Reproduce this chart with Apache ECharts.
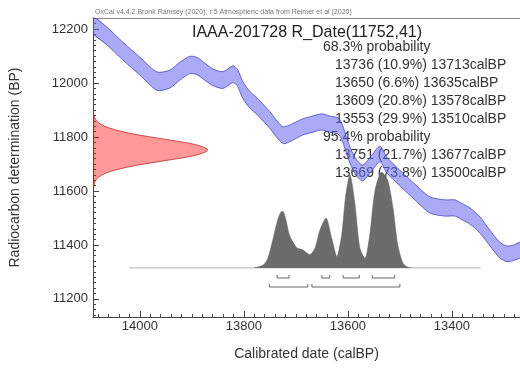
<!DOCTYPE html>
<html>
<head>
<meta charset="utf-8">
<script src="https://cdn.jsdelivr.net/npm/echarts@6/dist/echarts.min.js"></script>
<style>
  html, body { margin: 0; padding: 0; background: #fff; }
  #main { width: 520px; height: 369px; }
</style>
</head>
<body>
<div id="main"></div>
<script>
// 校正曲线 (calBP / BP / 1 sigma)
const curveYears = [14090, 14062, 14033, 14000, 13967, 13942, 13923, 13904, 13890, 13879, 13860, 13840, 13821, 13812, 13802, 13788, 13775, 13750, 13725, 13706, 13687, 13667, 13650, 13635, 13619, 13612, 13596, 13583, 13571, 13554, 13538, 13525, 13500, 13471, 13442, 13413, 13394, 13379, 13365, 13346, 13327, 13308, 13294, 13283, 13269]
const curveBP = [12215, 12172, 12119, 12063, 12007, 12015, 12044, 12067, 12063, 12048, 12022, 12011, 12033, 12019, 11974, 11937, 11915, 11863, 11807, 11819, 11837, 11848, 11856, 11848, 11841, 11822, 11733, 11685, 11667, 11704, 11737, 11696, 11648, 11596, 11548, 11537, 11537, 11522, 11507, 11474, 11426, 11381, 11367, 11370, 11381]
const curveErr = [33, 33, 33, 33, 34, 33, 33, 32, 32, 32, 31, 31, 31, 31, 31, 31, 31, 31, 31, 31, 30, 30, 30, 30, 30, 30, 30, 30, 29, 29, 29, 29, 29, 29, 30, 30, 30, 30, 30, 30, 29, 29, 29, 29, 29]

// R_Date(11752,41)
const dateBP = [11892, 11872, 11852, 11832, 11812, 11792, 11772, 11752, 11732, 11712, 11692, 11672, 11652, 11632, 11612]
const dateProb = [0.003, 0.014, 0.05, 0.15, 0.34, 0.62, 0.89, 1, 0.89, 0.62, 0.34, 0.15, 0.05, 0.014, 0.003]

// 校正后概率分布
const postYears = [13780, 13763, 13754, 13744, 13735, 13729, 13725, 13719, 13712, 13698, 13687, 13673, 13663, 13654, 13642, 13631, 13621, 13612, 13604, 13596, 13587, 13577, 13567, 13558, 13548, 13535, 13523, 13513, 13504, 13494, 13485, 13477]
const postProb = [0, 0.03, 0.1, 0.3, 0.5, 0.58, 0.59, 0.5, 0.34, 0.21, 0.19, 0.14, 0.21, 0.39, 0.52, 0.31, 0.12, 0.34, 0.76, 0.97, 0.7, 0.21, 0.1, 0.34, 0.8, 1, 0.91, 0.62, 0.24, 0.05, 0.01, 0]
const baseline = [14020, 13345]

// 区间
const range68 = [[13736, 13713], [13650, 13635], [13609, 13578], [13553, 13510]]
const range95 = [[13751, 13677], [13669, 13500]]
const lines68 = ['13736 (10.9%) 13713calBP', '13650 (6.6%) 13635calBP', '13609 (20.8%) 13578calBP', '13553 (29.9%) 13510calBP']
const lines95 = ['13751 (21.7%) 13677calBP', '13669 (73.8%) 13500calBP']

const font = 'Liberation Sans, Arial, sans-serif'
const axisColor = '#444'

var chart = echarts.init(document.getElementById('main'), null, { renderer: 'canvas' })

// 文字
var graphics = [
  { type: 'text', left: 95, top: 9, style: { text: 'OxCal v4.4.2 Bronk Ramsey (2020); r:5 Atmospheric data from Reimer et al (2020)', font: '7px ' + font, fill: '#777' } },
  { type: 'text', x: 307, y: 33, style: { text: 'IAAA-201728 R_Date(11752,41)', font: '16px ' + font, fill: '#222', align: 'center', verticalAlign: 'middle' } },
  { type: 'text', x: 323, y: 47, style: { text: '68.3% probability', font: '14px ' + font, fill: '#333', verticalAlign: 'middle' } }
]
lines68.forEach((t, i) => {
  graphics.push({ type: 'text', x: 335, y: 65 + i * 18, style: { text: t, font: '14px ' + font, fill: '#333', verticalAlign: 'middle' } })
})
graphics.push({ type: 'text', x: 323, y: 137, style: { text: '95.4% probability', font: '14px ' + font, fill: '#333', verticalAlign: 'middle' } })
lines95.forEach((t, i) => {
  graphics.push({ type: 'text', x: 335, y: 155 + i * 18, style: { text: t, font: '14px ' + font, fill: '#333', verticalAlign: 'middle' } })
})

function bandItem(params, api) {
  const upper = curveYears.map((y, i) => api.coord([y, curveBP[i] + curveErr[i]]))
  const lower = curveYears.map((y, i) => api.coord([y, curveBP[i] - curveErr[i]])).reverse()
  return {
    type: 'group',
    children: [
      { type: 'polygon', shape: { points: upper.concat(lower), smooth: 0.25 },
        style: { fill: 'rgba(100,100,240,0.55)' } },
      { type: 'polyline', shape: { points: upper, smooth: 0.25 },
        style: { fill: null, stroke: 'rgba(70,70,190,0.8)', lineWidth: 1 } },
      { type: 'polyline', shape: { points: lower, smooth: 0.25 },
        style: { fill: null, stroke: 'rgba(70,70,190,0.8)', lineWidth: 1 } }
    ]
  }
}

function dateItem(params, api) {
  const pts = dateBP.map((b, i) => api.coord([dateProb[i], b]))
  pts.unshift(api.coord([0, dateBP[0]]))
  pts.push(api.coord([0, dateBP[dateBP.length - 1]]))
  return {
    type: 'polygon',
    shape: { points: pts, smooth: 0.3 },
    style: { fill: 'rgba(255,0,0,0.4)', stroke: 'rgba(190,40,40,0.8)', lineWidth: 1 }
  }
}

function rangeItem(params, api) {
  const a = api.coord([api.value(0), 0])
  const b = api.coord([api.value(1), 0])
  const y = a[1] + (api.value(2) === 0 ? 10 : 19)
  return {
    type: 'polyline',
    shape: { points: [[a[0], y - 3], [a[0], y], [b[0], y], [b[0], y - 3]] },
    style: { stroke: '#666', lineWidth: 1, fill: null }
  }
}

var rangeData = range68.map(r => [r[0], r[1], 0]).concat(range95.map(r => [r[0], r[1], 1]))

var option = {
  animation: false,
  textStyle: { fontFamily: font },
  graphic: graphics,
  grid: [
    { left: 93, right: 0, top: 18, bottom: 52 },
    { left: 93, right: 0, top: 172, bottom: 101 },
    { left: 93, width: 115, top: 18, bottom: 52 }
  ],
  xAxis: [
    {
      type: 'value', gridIndex: 0, position: 'bottom', min: 13269, max: 14090, inverse: true,
      minInterval: 200, maxInterval: 200,
      name: 'Calibrated date (calBP)', nameLocation: 'middle', nameGap: 30,
      nameTextStyle: { fontSize: 14, color: '#333' },
      axisLine: { lineStyle: { color: axisColor } },
      axisTick: { inside: true, length: 6, lineStyle: { color: axisColor } },
      axisLabel: { fontSize: 13, color: '#333', margin: 3, showMinLabel: false, showMaxLabel: false,
        formatter: v => (v % 200 === 0 ? String(v) : '') },
      splitLine: { show: false }
    },
    {
      type: 'value', gridIndex: 0, position: 'bottom', min: 13269, max: 14090, inverse: true,
      splitNumber: 41,
      axisLine: { show: true, lineStyle: { color: axisColor } },
      axisTick: { show: true, inside: true, length: 3, lineStyle: { color: axisColor } },
      axisLabel: { show: false },
      splitLine: { show: false }
    },
    {
      type: 'value', gridIndex: 0, position: 'top', min: 13269, max: 14090, inverse: true,
      axisLine: { lineStyle: { color: '#888' } },
      axisTick: { show: false }, axisLabel: { show: false }, splitLine: { show: false }
    },
    {
      type: 'value', gridIndex: 1, min: 13269, max: 14090, inverse: true, show: false
    },
    {
      type: 'value', gridIndex: 2, min: 0, max: 1, show: false
    }
  ],
  yAxis: [
    {
      type: 'value', gridIndex: 0, position: 'left', min: 11133, max: 12241,
      minInterval: 200, maxInterval: 200,
      name: 'Radiocarbon determination (BP)', nameLocation: 'middle', nameGap: 71,
      nameTextStyle: { fontSize: 14, color: '#333' },
      axisLine: { lineStyle: { color: axisColor } },
      axisTick: { inside: true, length: 6, lineStyle: { color: axisColor } },
      axisLabel: { fontSize: 13, color: '#333', margin: 5, showMinLabel: false, showMaxLabel: false,
        formatter: v => (v % 200 === 0 ? String(v) : '') },
      splitLine: { show: false }
    },
    {
      type: 'value', gridIndex: 0, position: 'left', min: 11133, max: 12241,
      minInterval: 20, maxInterval: 20,
      axisLine: { show: true, lineStyle: { color: axisColor } },
      axisTick: { show: true, inside: true, length: 3, lineStyle: { color: axisColor } },
      axisLabel: { show: false },
      splitLine: { show: false }
    },
    {
      type: 'value', gridIndex: 1, min: 0, max: 1, show: false
    },
    {
      type: 'value', gridIndex: 2, min: 11133, max: 12241, show: false
    }
  ],
  series: [
    {
      type: 'line', xAxisIndex: 3, yAxisIndex: 2, z: 1,
      data: baseline.map(v => [v, 0]),
      symbol: 'none', lineStyle: { color: '#999', width: 1 }, silent: true
    },
    {
      type: 'line', xAxisIndex: 3, yAxisIndex: 2, z: 2,
      data: postYears.map((v, i) => [v, postProb[i]]),
      symbol: 'none', smooth: 0.25,
      lineStyle: { color: '#666', width: 0.5 },
      areaStyle: { color: '#6c6c6c', opacity: 1 },
      silent: true
    },
    {
      type: 'custom', xAxisIndex: 3, yAxisIndex: 2, z: 2, clip: false,
      data: rangeData, renderItem: rangeItem, silent: true
    },
    {
      type: 'custom', xAxisIndex: 4, yAxisIndex: 3, z: 3, clip: true,
      data: [0], renderItem: dateItem, silent: true
    },
    {
      type: 'custom', xAxisIndex: 0, yAxisIndex: 0, z: 4, clip: true,
      data: [0], renderItem: bandItem, silent: true
    }
  ]
}
chart.setOption(option)
</script>
</body>
</html>
